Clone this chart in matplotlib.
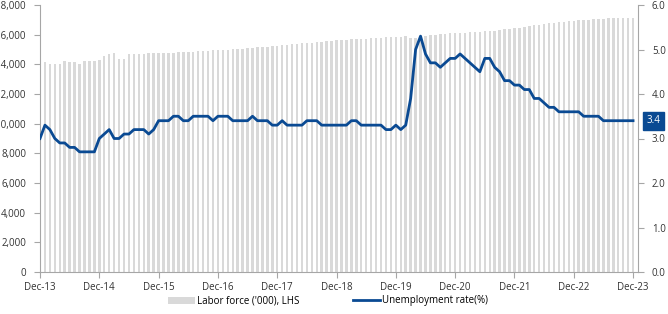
import matplotlib.pyplot as plt
import numpy as np

plt.rcParams['font.family'] = ['Open Sans', 'DejaVu Sans']

# Month labels for the x ticks (Dec of each year)
tick_labels = ['Dec-13', 'Dec-14', 'Dec-15', 'Dec-16', 'Dec-17', 'Dec-18',
               'Dec-19', 'Dec-20', 'Dec-21', 'Dec-22', 'Dec-23']

# Labor force ('000), Jan-14 .. Dec-23
labor_force = [
    14150, 14030, 13990, 14030, 14200, 14150, 14150, 14050, 14240, 14240, 14240, 14310,
    14540, 14690, 14740, 14370, 14390, 14700, 14710, 14720, 14730, 14740, 14750, 14760,
    14770, 14780, 14790, 14800, 14820, 14840, 14860, 14880, 14900, 14920, 14940, 14960,
    14980, 15000, 15020, 15040, 15060, 15080, 15110, 15140, 15170, 15200, 15230, 15260,
    15290, 15320, 15350, 15380, 15410, 15440, 15470, 15500, 15530, 15560, 15590, 15620,
    15640, 15660, 15680, 15700, 15720, 15740, 15760, 15780, 15800, 15820, 15840, 15860,
    15870, 15880, 15790, 15800, 15850, 15900, 15950, 15990, 16020, 16050, 16080, 16100,
    16120, 16140, 16160, 16180, 16200, 16220, 16250, 16280, 16310, 16350, 16390, 16430,
    16480, 16530, 16580, 16630, 16680, 16720, 16760, 16800, 16840, 16880, 16920, 16950,
    16980, 17000, 17020, 17040, 17060, 17080, 17090, 17100, 17110, 17120, 17130, 17140,
]

# Unemployment rate (%), Dec-13 .. Dec-23
unemployment = [
    3.0, 3.3, 3.2, 3.0, 2.9, 2.9, 2.8, 2.8, 2.7, 2.7, 2.7, 2.7,
    3.0, 3.1, 3.2, 3.0, 3.0, 3.1, 3.1, 3.2, 3.2, 3.2, 3.1, 3.2,
    3.4, 3.4, 3.4, 3.5, 3.5, 3.4, 3.4, 3.5, 3.5, 3.5, 3.5, 3.4,
    3.5, 3.5, 3.5, 3.4, 3.4, 3.4, 3.4, 3.5, 3.4, 3.4, 3.4, 3.3,
    3.3, 3.4, 3.3, 3.3, 3.3, 3.3, 3.4, 3.4, 3.4, 3.3, 3.3, 3.3,
    3.3, 3.3, 3.3, 3.4, 3.4, 3.3, 3.3, 3.3, 3.3, 3.3, 3.2, 3.2,
    3.3, 3.2, 3.3, 3.9, 5.0, 5.3, 4.9, 4.7, 4.7, 4.6, 4.7, 4.8,
    4.8, 4.9, 4.8, 4.7, 4.6, 4.5, 4.8, 4.8, 4.6, 4.5, 4.3, 4.3,
    4.2, 4.2, 4.1, 4.1, 3.9, 3.9, 3.8, 3.7, 3.7, 3.6, 3.6, 3.6,
    3.6, 3.6, 3.5, 3.5, 3.5, 3.5, 3.4, 3.4, 3.4, 3.4, 3.4, 3.4, 3.4,
]

BLUE = '#0a4a93'
GREY = '#d9d9d9'
AXIS = '#a6a6a6'

fig = plt.figure(figsize=(6.68, 3.14), dpi=100)
ax = fig.add_axes([40 / 668, 42 / 314, 598 / 668, 267 / 314])
ax2 = ax.twinx()

x_bars = np.arange(1, len(labor_force) + 1)
x_line = np.arange(len(unemployment))

ax.bar(x_bars, labor_force, width=0.5, color=GREY, label="Labor force ('000), LHS")
ax2.plot(x_line, unemployment, color=BLUE, lw=2.0, label='Unemployment rate(%)')

ax.set_xlim(0, 121)
ax.set_ylim(0, 18000)
ax2.set_ylim(0, 6.0)

ax.set_yticks(np.arange(0, 18001, 2000))
ax.set_yticklabels([f'{v:,}' for v in range(0, 18001, 2000)])
ax2.set_yticks(np.arange(0, 6.01, 1.0))
ax2.set_yticklabels([f'{v:.1f}' for v in np.arange(0, 6.01, 1.0)])

ax.set_xticks(np.arange(0, 121, 12))
ax.set_xticklabels(tick_labels)

for a in (ax, ax2):
    a.spines['top'].set_visible(False)
    for s in ('left', 'right', 'bottom'):
        a.spines[s].set_color(AXIS)
        a.spines[s].set_linewidth(0.8)
    a.tick_params(colors=AXIS, labelcolor='#333333', labelsize=7, length=4, width=0.8)
ax.spines['right'].set_visible(False)
ax2.spines['left'].set_visible(False)
ax2.spines['bottom'].set_visible(False)
ax.tick_params(axis='y', pad=6)
ax2.tick_params(axis='y', pad=6)
ax.tick_params(axis='x', pad=3)

# End value label on the right axis
ax2.annotate(f'{unemployment[-1]:.1f}', xy=(1, unemployment[-1]),
             xycoords=('axes fraction', 'data'), xytext=(6, 0),
             textcoords='offset points', ha='left', va='center',
             color='white', fontsize=7,
             bbox=dict(boxstyle='square,pad=0.35', fc=BLUE, ec=BLUE))

h1, l1 = ax.get_legend_handles_labels()
h2, l2 = ax2.get_legend_handles_labels()
fig.legend(h1 + h2, l1 + l2, loc='center', bbox_to_anchor=(328 / 668, 13 / 314),
           ncol=2, frameon=False, fontsize=7, handlelength=2.8,
           columnspacing=5.5, handletextpad=0.2)

fig.savefig('out.png', dpi=100)
